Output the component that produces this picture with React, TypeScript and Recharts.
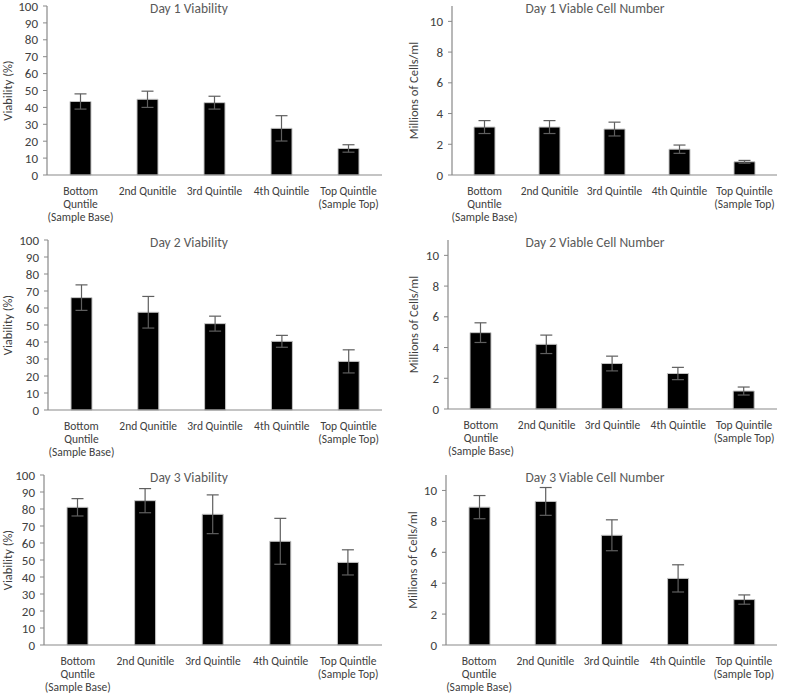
import React from "react";
import { BarChart, Bar, XAxis, YAxis, ErrorBar, Label } from "recharts";

const categories = [
  "Bottom\nQuntile\n(Sample Base)",
  "2nd Qunitile",
  "3rd Quintile",
  "4th Quintile",
  "Top Quintile\n(Sample Top)",
];

const day1Viability = [43.5, 44.8, 42.8, 27.6, 15.7];
const day1ViabilityErr = [4.5, 4.8, 3.8, 7.5, 2.2];
const day1Cells = [3.12, 3.12, 2.99, 1.68, 0.86];
const day1CellsErr = [0.42, 0.42, 0.45, 0.27, 0.09];

const day2Viability = [66.1, 57.5, 50.8, 40.4, 28.6];
const day2ViabilityErr = [7.5, 9.3, 4.4, 3.5, 6.8];
const day2Cells = [4.97, 4.21, 2.96, 2.31, 1.17];
const day2CellsErr = [0.64, 0.6, 0.48, 0.4, 0.26];

const day3Viability = [81, 84.9, 76.9, 61, 48.6];
const day3ViabilityErr = [5.1, 7.1, 11.4, 13.5, 7.4];
const day3Cells = [8.92, 9.29, 7.1, 4.31, 2.94];
const day3CellsErr = [0.75, 0.9, 1.0, 0.88, 0.3];

const viabilityTicks = [0, 10, 20, 30, 40, 50, 60, 70, 80, 90, 100];
const cellTicks = [0, 2, 4, 6, 8, 10];

const FONT = "Carlito, Calibri, Lato, sans-serif";
const AXIS_GREY = "#898989";
const TEXT_GREY = "#404040";

const toRows = (values: number[], errs: number[]) =>
  categories.map((name, i) => ({ name, value: values[i], err: errs[i] }));

const CategoryTick = (props: any) => {
  const { x, y, payload } = props;
  const lines = String(payload.value).split("\n");
  return (
    <g transform={`translate(${x},${y})`}>
      <text textAnchor="middle" fill={TEXT_GREY} fontSize={11.5} fontFamily={FONT}>
        {lines.map((line, i) => (
          <tspan key={i} x={0} y={18 + i * 13}>
            {line}
          </tspan>
        ))}
      </text>
    </g>
  );
};

interface PanelProps {
  title: string;
  yLabel: string;
  values: number[];
  errs: number[];
  ticks: number[];
  yMax: number;
  left: number;
  top: number;
  axisX: number;
  plotTop: number;
  plotBottom: number;
  plotRight: number;
  labelX: number;
}

const W = 395;
const H = 231;
const X_AXIS_H = 44;

const Panel = (p: PanelProps) => {
  const data = toRows(p.values, p.errs);
  const margin = {
    top: p.plotTop - p.top,
    right: p.left + W - p.plotRight,
    bottom: p.top + H - p.plotBottom - X_AXIS_H,
    left: 0,
  };
  const yLabelContent = (lp: any) => {
    const vb = lp.viewBox || {};
    const cy = (vb.y ?? margin.top) + (vb.height ?? p.plotBottom - p.plotTop) / 2;
    const lx = p.labelX - p.left;
    return (
      <text
        x={lx}
        y={cy}
        transform={`rotate(-90, ${lx}, ${cy})`}
        textAnchor="middle"
        dominantBaseline="central"
        fill={TEXT_GREY}
        fontSize={12.5}
        fontFamily={FONT}
      >
        {p.yLabel}
      </text>
    );
  };
  return (
    <div style={{ position: "absolute", left: p.left, top: p.top, width: W, height: H }}>
      <BarChart width={W} height={H} data={data} margin={margin} barCategoryGap={0}>
        <XAxis
          dataKey="name"
          height={X_AXIS_H}
          interval={0}
          tick={<CategoryTick />}
          tickLine={false}
          tickSize={0}
          axisLine={{ stroke: AXIS_GREY, strokeWidth: 1.2 }}
        />
        <YAxis
          width={p.axisX - p.left}
          domain={[0, p.yMax]}
          ticks={p.ticks}
          interval={0}
          tickSize={4}
          tickMargin={5}
          tickLine={{ stroke: AXIS_GREY }}
          axisLine={{ stroke: AXIS_GREY, strokeWidth: 1.2 }}
          tick={{ fill: TEXT_GREY, fontSize: 13, fontFamily: FONT }}
        >
          <Label content={yLabelContent} />
        </YAxis>
        <Bar
          dataKey="value"
          fill="#000000"
          stroke="#c4c4c4"
          strokeWidth={1}
          barSize={21}
          isAnimationActive={false}
        >
          <ErrorBar dataKey="err" width={6} stroke="#5f5f5f" strokeWidth={1.2} direction="y" />
        </Bar>
      </BarChart>
      <div
        style={{
          position: "absolute",
          left: (p.left === 0 ? 189 : 595) - p.left - 120,
          width: 240,
          top: p.plotTop - p.top + 3 - 8,
          lineHeight: "16px",
          textAlign: "center",
          fontFamily: FONT,
          fontSize: 13.5,
          color: "#595959",
        }}
      >
        {p.title}
      </div>
    </div>
  );
};

export default function App() {
  return (
    <div
      style={{
        position: "absolute",
        left: 0,
        top: 0,
        width: 790,
        height: 693,
        background: "#ffffff",
      }}
    >
      <Panel
        title="Day 1 Viability"
        yLabel="Viability (%)"
        values={day1Viability}
        errs={day1ViabilityErr}
        ticks={viabilityTicks}
        yMax={100}
        left={0}
        top={0}
        axisX={47}
        plotTop={6}
        plotBottom={175}
        plotRight={382}
        labelX={7}
      />
      <Panel
        title="Day 1 Viable Cell Number"
        yLabel="Millions of Cells/ml"
        values={day1Cells}
        errs={day1CellsErr}
        ticks={cellTicks}
        yMax={11}
        left={395}
        top={0}
        axisX={452}
        plotTop={6}
        plotBottom={175}
        plotRight={777}
        labelX={413}
      />
      <Panel
        title="Day 2 Viability"
        yLabel="Viability (%)"
        values={day2Viability}
        errs={day2ViabilityErr}
        ticks={viabilityTicks}
        yMax={100}
        left={0}
        top={231}
        axisX={48}
        plotTop={240}
        plotBottom={410}
        plotRight={382}
        labelX={7}
      />
      <Panel
        title="Day 2 Viable Cell Number"
        yLabel="Millions of Cells/ml"
        values={day2Cells}
        errs={day2CellsErr}
        ticks={cellTicks}
        yMax={11}
        left={395}
        top={231}
        axisX={448}
        plotTop={240}
        plotBottom={409}
        plotRight={777}
        labelX={413}
      />
      <Panel
        title="Day 3 Viability"
        yLabel="Viability (%)"
        values={day3Viability}
        errs={day3ViabilityErr}
        ticks={viabilityTicks}
        yMax={100}
        left={0}
        top={462}
        axisX={44}
        plotTop={475}
        plotBottom={645}
        plotRight={382}
        labelX={7}
      />
      <Panel
        title="Day 3 Viable Cell Number"
        yLabel="Millions of Cells/ml"
        values={day3Cells}
        errs={day3CellsErr}
        ticks={cellTicks}
        yMax={11}
        left={395}
        top={462}
        axisX={446}
        plotTop={475}
        plotBottom={645}
        plotRight={777}
        labelX={412}
      />
    </div>
  );
}
